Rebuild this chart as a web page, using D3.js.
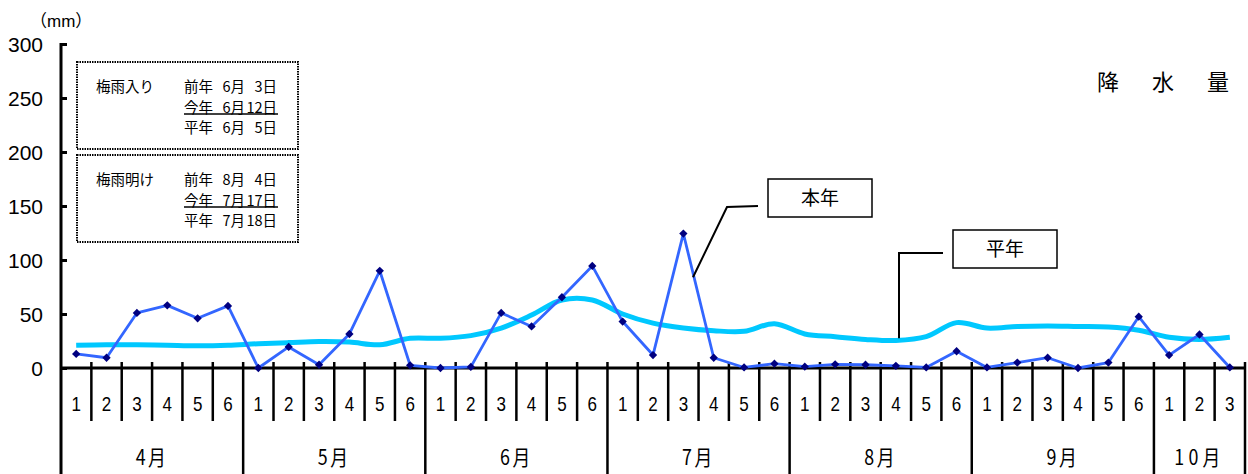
<!DOCTYPE html>
<html>
<head>
<meta charset="utf-8">
<script src="https://cdn.jsdelivr.net/npm/d3@7"></script>
<style>
  body { margin: 0; background: #fff; }
  svg { display: block; }
  text { font-family: "Liberation Sans", Arial, "Noto Sans CJK JP", sans-serif; fill: #000; }
  .jp { font-family: "Noto Sans CJK JP", sans-serif; }
</style>
</head>
<body>
<div id="chart"></div>
<script>
// data
var months = ["4月", "5月", "6月", "7月", "8月", "9月", "10月"];
var monthSpans = [6, 6, 6, 6, 6, 6, 3];
var periods = [1, 2, 3, 4, 5, 6, 1, 2, 3, 4, 5, 6, 1, 2, 3, 4, 5, 6, 1, 2, 3, 4, 5, 6,
               1, 2, 3, 4, 5, 6, 1, 2, 3, 4, 5, 6, 1, 2, 3];
var thisYear = [13, 9.5, 51, 58, 46, 57.5,
                0, 19.5, 3, 31.5, 90, 2.5,
                0, 1, 51, 38.5, 65.5, 94.5,
                43, 12, 124.5, 9.5, 0.5, 4,
                1.2, 3.4, 3, 2, 0.5, 15.5,
                0.5, 5, 9.5, 0, 5, 47.5,
                12, 31, 0.5];
var normal = [21, 21.5, 21.5, 21, 20.5, 21,
              22.5, 23.5, 24.5, 24, 21.5, 27.5,
              27.5, 30, 37, 49, 63, 63,
              50, 41.5, 37, 34.5, 34, 41,
              31.5, 29, 26.5, 25.5, 29, 42,
              37, 38.5, 39, 38.5, 38, 35,
              28.5, 26.5, 28.5];
var yTicks = [0, 50, 100, 150, 200, 250, 300];
var tsuyuIri = ["前年 6月 3日", "今年 6月12日", "平年 6月 5日"];
var tsuyuAke = ["前年 8月 4日", "今年 7月17日", "平年 7月18日"];

var w = 1248;
var h = 474;

var svg = d3.select("#chart")
    .append("svg")
    .attr("width", w)
    .attr("height", h);

var x = d3.scaleBand()
    .domain(d3.range(periods.length))
    .range([61, 1245])
    .padding(0);

var y = d3.scaleLinear()
    .domain([0, 300])
    .range([368, 44]);

var cx = function(i) { return x(i) + x.bandwidth() / 2; };

// y axis ticks + labels
var yAxis = d3.axisLeft(y)
    .tickValues(yTicks)
    .tickSizeInner(-6)
    .tickSizeOuter(0)
    .tickPadding(18);

var gy = svg.append("g")
    .attr("transform", "translate(61,0)")
    .call(yAxis);
gy.select(".domain").remove();
gy.selectAll(".tick line").attr("stroke", "#000").attr("stroke-width", 3);
gy.selectAll(".tick text")
    .attr("font-size", 21)
    .attr("font-family", "Liberation Sans, Arial, sans-serif")
    .attr("dy", "0.36em");

// y axis line, running down through the table
svg.append("line")
    .attr("x1", 61).attr("x2", 61)
    .attr("y1", y(300) - 1).attr("y2", h)
    .attr("stroke", "#000").attr("stroke-width", 3);

// x axis line
svg.append("line")
    .attr("x1", 61).attr("x2", x.range()[1])
    .attr("y1", y(0)).attr("y2", y(0))
    .attr("stroke", "#000").attr("stroke-width", 3);

// dividers under the axis
var bounds = d3.range(1, periods.length + 1);
var monthEnds = Array.from(d3.cumsum(monthSpans));
var starts = [0].concat(monthEnds.slice(0, -1));
svg.selectAll("line.div")
    .data(bounds)
    .enter()
    .append("line")
    .attr("class", "div")
    .attr("x1", function(i) { return x(i - 1) + x.bandwidth(); })
    .attr("x2", function(i) { return x(i - 1) + x.bandwidth(); })
    .attr("y1", y(0) - 6)
    .attr("y2", function(i) {
        return monthEnds.indexOf(i) >= 0 ? h : 421;
    })
    .attr("stroke", "#000")
    .attr("stroke-width", 2.5);

// period labels
svg.selectAll("text.period")
    .data(periods)
    .enter()
    .append("text")
    .attr("class", "period")
    .attr("transform", function(d, i) {
        return "translate(" + cx(i) + ",411) scale(0.85,1)";
    })
    .attr("text-anchor", "middle")
    .attr("font-size", 20)
    .text(function(d) { return d; });

// month labels
svg.selectAll("text.month")
    .data(months)
    .enter()
    .append("text")
    .attr("class", "month jp")
    .attr("transform", function(d, i) {
        var mid = (x(starts[i]) + x(monthEnds[i] - 1) + x.bandwidth()) / 2;
        return "translate(" + mid + ",465) scale(0.85,1)";
    })
    .attr("text-anchor", "middle")
    .attr("font-size", 21)
    .attr("letter-spacing", function(d) { return d.length > 2 ? 5 : 3; })
    .text(function(d) { return d; });

// normal line
var smooth = d3.line()
    .x(function(d, i) { return cx(i); })
    .y(function(d) { return y(d); })
    .curve(d3.curveCatmullRom.alpha(0.5));

svg.append("path")
    .datum(normal)
    .attr("d", smooth)
    .attr("fill", "none")
    .attr("stroke", "#00c8ff")
    .attr("stroke-width", 5)
    .attr("stroke-linejoin", "round");

// this year's line
var straight = d3.line()
    .x(function(d, i) { return cx(i); })
    .y(function(d) { return y(d); });

svg.append("path")
    .datum(thisYear)
    .attr("d", straight)
    .attr("fill", "none")
    .attr("stroke", "#3366ff")
    .attr("stroke-width", 2.8)
    .attr("stroke-linejoin", "round");

svg.selectAll("path.dot")
    .data(thisYear)
    .enter()
    .append("path")
    .attr("class", "dot")
    .attr("d", d3.symbol().type(d3.symbolDiamond2).size(44))
    .attr("transform", function(d, i) {
        return "translate(" + cx(i) + "," + y(d) + ")";
    })
    .attr("fill", "#000080");

// units and title
svg.append("text")
    .attr("x", 30)
    .attr("y", 27)
    .attr("font-size", 17)
    .text("（mm）");

svg.selectAll("text.title")
    .data(["降", "水", "量"])
    .enter()
    .append("text")
    .attr("class", "title jp")
    .attr("x", function(d, i) { return 1108 + i * 55; })
    .attr("y", 90)
    .attr("text-anchor", "middle")
    .attr("font-size", 22)
    .text(function(d) { return d; });

// tsuyu boxes
function tsuyuBox(top, label, rows) {
    var g = svg.append("g").attr("transform", "translate(77," + top + ")");
    g.append("rect")
        .attr("width", 221)
        .attr("height", 87)
        .attr("fill", "#fff")
        .attr("stroke", "#000")
        .attr("stroke-width", 2)
        .attr("stroke-dasharray", "1.5,1");
    g.append("text")
        .attr("class", "jp")
        .attr("x", 19)
        .attr("y", 30)
        .attr("font-size", 14.5)
        .text(label);
    // each row: "前年 6月 3日" -> year part, month, day (month and day right-aligned)
    var parts = rows.map(function(r) {
        var m = r.match(/^(\S+)\s*(\d+月)\s*(\d+日)$/);
        return { yr: m[1], mo: m[2], dy: m[3] };
    });
    var rowY = function(d, i) { return 30 + i * 20.5; };
    g.selectAll("text.yr")
        .data(parts).enter().append("text")
        .attr("class", "yr jp")
        .attr("x", 107).attr("y", rowY)
        .attr("font-size", 14.5)
        .text(function(d) { return d.yr; });
    g.selectAll("text.mo")
        .data(parts).enter().append("text")
        .attr("class", "mo jp")
        .attr("x", 168).attr("y", rowY)
        .attr("text-anchor", "end")
        .attr("font-size", 14.5)
        .text(function(d) { return d.mo; });
    g.selectAll("text.dy")
        .data(parts).enter().append("text")
        .attr("class", "dy jp")
        .attr("x", 200).attr("y", rowY)
        .attr("text-anchor", "end")
        .attr("font-size", 14.5)
        .text(function(d) { return d.dy; });
    g.append("line")
        .attr("x1", 107).attr("x2", 201)
        .attr("y1", 52).attr("y2", 52)
        .attr("stroke", "#000")
        .attr("stroke-width", 1.5);
}
tsuyuBox(62, "梅雨入り", tsuyuIri);
tsuyuBox(155, "梅雨明け", tsuyuAke);

// callouts
function callout(bx, by, label, pts) {
    svg.append("polyline")
        .attr("points", pts.map(function(p) { return p.join(","); }).join(" "))
        .attr("fill", "none")
        .attr("stroke", "#000")
        .attr("stroke-width", 2);
    svg.append("rect")
        .attr("x", bx).attr("y", by)
        .attr("width", 104).attr("height", 38)
        .attr("fill", "#fff")
        .attr("stroke", "#000")
        .attr("stroke-width", 1.5);
    svg.append("text")
        .attr("class", "jp")
        .attr("x", bx + 52)
        .attr("y", by + 26)
        .attr("text-anchor", "middle")
        .attr("font-size", 19)
        .text(label);
}
callout(768, 179, "本年", [[693, y(84)], [727, 207], [758, 206]]);
callout(953, 230, "平年", [[899, y(27.5)], [899, 253], [943, 253]]);
</script>
</body>
</html>
